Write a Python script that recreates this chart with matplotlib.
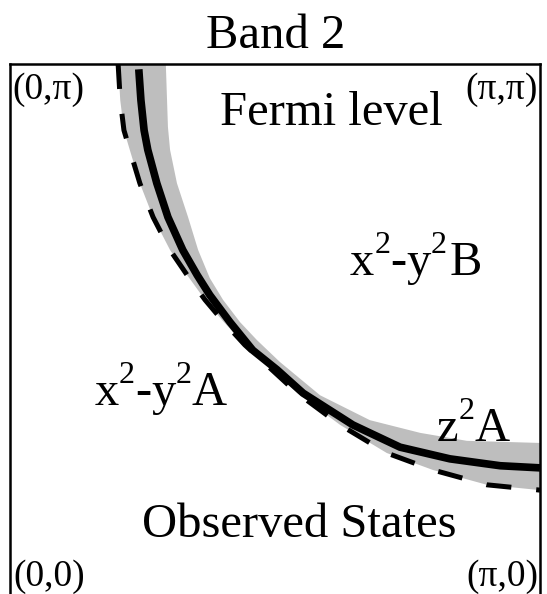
import numpy as np
import matplotlib
matplotlib.use("Agg")
import matplotlib.pyplot as plt

plt.rcParams['font.family'] = ['Liberation Serif', 'DejaVu Serif']

# curves in units of pi (kx/pi, ky/pi)
solid_x = [0.243, 0.247, 0.253, 0.260, 0.277, 0.298, 0.326, 0.353, 0.377, 0.415,
           0.458, 0.504, 0.553, 0.647, 0.736, 0.830, 0.925, 1.0]
solid_y = [0.990, 0.932, 0.875, 0.838, 0.775, 0.711, 0.649, 0.602, 0.564, 0.513,
           0.460, 0.423, 0.379, 0.319, 0.277, 0.255, 0.242, 0.238]

dash_x = [0.204, 0.208, 0.215, 0.226, 0.245, 0.270, 0.302, 0.334, 0.368, 0.400,
          0.443, 0.491, 0.542, 0.623, 0.711, 0.798, 0.900, 1.0]
dash_y = [1.0, 0.932, 0.875, 0.838, 0.775, 0.711, 0.649, 0.602, 0.555, 0.517,
          0.470, 0.426, 0.379, 0.319, 0.266, 0.234, 0.206, 0.196]

band_x = [0.294, 0.298, 0.302, 0.315, 0.336, 0.355, 0.377, 0.402, 0.434, 0.466,
          0.509, 0.585, 0.679, 0.774, 0.862, 1.0]
band_y = [1.0, 0.881, 0.838, 0.775, 0.711, 0.649, 0.596, 0.555, 0.513, 0.479,
          0.438, 0.375, 0.328, 0.304, 0.289, 0.285]

title = "Band 2"
corner_labels = ["(0,\u03c0)", "(\u03c0,\u03c0)", "(0,0)", "(\u03c0,0)"]
plain_labels = ["Fermi level", "Observed States"]
# orbital labels: (text, superscript?, gap in px before the piece)
label_b = [("x", False, 0), ("2", True, 0), ("-", False, 0), ("y", False, 0),
           ("2", True, 0), ("B", False, 3)]
label_a = [("x", False, 0), ("2", True, 0), ("-", False, 0), ("y", False, 0),
           ("2", True, 0), ("A", False, 0)]
label_z = [("z", False, 0), ("2", True, 0), ("A", False, 0)]

W, H = 547, 594
fig = plt.figure(figsize=(W / 100, H / 100), dpi=100)
ax = fig.add_axes([10 / W, 0 / H, 530 / W, 530 / H])
ax.set_xlim(0, np.pi)
ax.set_ylim(0, np.pi)
ax.set_xticks([])
ax.set_yticks([])
for s in ax.spines.values():
    s.set_linewidth(1.8)
ax.spines['bottom'].set_visible(False)

sx = np.array(solid_x) * np.pi
sy = np.array(solid_y) * np.pi
dx = np.array(dash_x) * np.pi
dy = np.array(dash_y) * np.pi
bx = np.array(band_x) * np.pi
by = np.array(band_y) * np.pi

# shaded band between the dashed curve and the outer edge
ax.fill(np.concatenate([bx, dx[::-1]]), np.concatenate([by, dy[::-1]]),
        color='#bebebe', lw=0, zorder=1)
ax.plot(dx, dy, color='black', lw=3.6, dashes=(5, 5), zorder=2,
        solid_capstyle='butt', dash_capstyle='butt')
ax.plot(sx, sy, color='black', lw=5.5, zorder=3, solid_capstyle='butt')

fs = 35
sfs = 23
cfs = 27
sup_raise = 15.5  # points


def orbital_label(x, y, parts):
    # chain pieces left to right so superscripts sit high like the original
    prev = ax.text(x, y, parts[0][0], fontsize=fs, ha='left', va='baseline',
                   transform=ax.transAxes)
    for s, sup, gap in parts[1:]:
        prev = ax.annotate(s, xy=(1, y), xycoords=(prev, 'axes fraction'),
                           xytext=(gap * 0.72, sup_raise if sup else 0),
                           textcoords='offset points',
                           fontsize=sfs if sup else fs, ha='left', va='baseline')


ax.text(0.004, 0.951, corner_labels[0], fontsize=cfs, ha='left', va='center', transform=ax.transAxes)
ax.text(0.996, 0.951, corner_labels[1], fontsize=cfs, ha='right', va='center', transform=ax.transAxes)
ax.text(0.006, 0.016, corner_labels[2], fontsize=cfs, ha='left', va='baseline', transform=ax.transAxes)
ax.text(0.996, 0.016, corner_labels[3], fontsize=cfs, ha='right', va='baseline', transform=ax.transAxes)

ax.text(0.606, 0.885, plain_labels[0], fontsize=fs, ha='center', va='baseline', transform=ax.transAxes)
ax.text(0.546, 0.1075, plain_labels[1], fontsize=fs, ha='center', va='baseline', transform=ax.transAxes)
orbital_label(0.6415, 0.602, label_b)
orbital_label(0.160, 0.3566, label_a)
orbital_label(0.806, 0.2887, label_z)

fig.text(276 / W, 1 - 48 / H, title, fontsize=fs, ha='center', va='baseline')

fig.savefig("out.png", dpi=100)
